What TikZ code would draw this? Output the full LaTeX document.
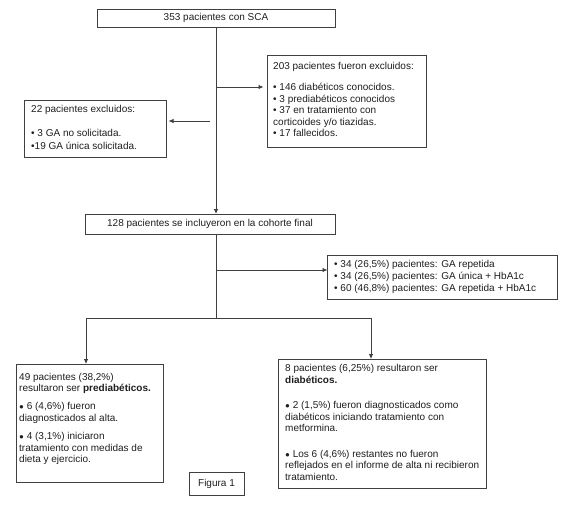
\documentclass[tikz,border=0pt]{standalone}
\usepackage{fontspec}
\setmainfont{Liberation Sans}
\usetikzlibrary{arrows.meta}
\definecolor{ln}{HTML}{404040}
\definecolor{tx}{HTML}{1E1E1E}
\newcommand{\bul}{{\fontsize{8pt}{8pt}\selectfont ●}}
\begin{document}
\begin{tikzpicture}[x=1pt,y=-1pt,
  box/.style={draw=ln, line width=0.8pt, anchor=north west, inner sep=0pt, outer sep=0pt},
  txt/.style={anchor=base west, inner sep=0pt, align=left, text=tx, font=\fontsize{10pt}{11.6pt}\selectfont},
  arr/.style={draw=ln, line width=0.8pt, -{Latex[length=5pt,width=4.5pt]}},
  ln/.style={draw=ln, line width=0.8pt}]
\useasboundingbox (0,0) rectangle (571,506);
% boxes
\node[box, minimum width=238pt, minimum height=18pt] (b353) at (97,9) {};
\node[box, minimum width=159pt, minimum height=92pt] (b203) at (267,55) {};
\node[box, minimum width=142pt, minimum height=57pt] (b22) at (24,100) {};
\node[box, minimum width=250pt, minimum height=20pt] (b128) at (85,214) {};
\node[box, minimum width=230pt, minimum height=44pt] (bGA) at (327.5,255) {};
\node[box, minimum width=147pt, minimum height=118pt] (bL) at (16,364) {};
\node[box, minimum width=208pt, minimum height=129pt] (bD) at (278,359) {};
\node[box, minimum width=55pt, minimum height=23pt] (bF) at (189,472) {};
% texts (anchored at the baseline of their last line)
\node[txt, anchor=center] (t353) at (b353.center) {353 pacientes con SCA};
\node[txt] (t203) at (273,136.9) {203 pacientes fueron excluidos:\\[9.4pt]
• 146 diabéticos conocidos.\\
• 3 prediabéticos conocidos\\
• 37 en tratamiento con\\
corticoides y/o tiazidas.\\
• 17 fallecidos.};
\node[txt] (t22) at (31,149.3) {22 pacientes excluidos:\\[11.9pt]
• 3 GA no solicitada.\\[1.4pt]
•19 GA única solicitada.};
\node[txt, anchor=center] (t128) at (b128.center) {128 pacientes se incluyeron en la cohorte final};
\node[txt] (tGA) at (334,291.9) {• 34 (26,5\%) pacientes: GA repetida\\[1.2pt]
• 34 (26,5\%) pacientes: GA única + HbA1c\\[0.4pt]
• 60 (46,8\%) pacientes: GA repetida + HbA1c};
\node[txt] (tL) at (19,462.6) {49 pacientes (38,2\%)\\
resultaron ser \textbf{prediabéticos.}\\[6.4pt]
\bul\ 6 (4,6\%) fueron\\
diagnosticados al alta.\\[6.6pt]
\bul\ 4 (3,1\%) iniciaron\\
tratamiento con medidas de\\
dieta y ejercicio.};
\node[txt] (tD) at (285,480.3) {8 pacientes (6,25\%) resultaron ser\\
\textbf{diabéticos.}\\[13.4pt]
\bul\ 2 (1,5\%) fueron diagnosticados como\\
diabéticos iniciando tratamiento con\\
metformina.\\[13.8pt]
\bul\ Los 6 (4,6\%) restantes no fueron\\
reflejados en el informe de alta ni recibieron\\
tratamiento.};
\node[txt, anchor=center] (tF) at (bF.center) {Figura 1};
% connectors
\coordinate (j1) at (216,87);
\coordinate (j2) at (210,121);
\coordinate (j4) at (216,270);
\coordinate (j3) at (216,318);
\coordinate (xL) at (86,0);
\coordinate (xR) at (371,0);
\draw[arr] (b353.south) -- (b353.south |- b128.north);
\draw[arr, shorten >=3.5pt] (j1) -- (j1 -| b203.west);
\draw[arr, shorten >=2.5pt] (j2) -- (j2 -| b22.east);
\draw[ln] (b353.south |- b128.south) -- (j3);
\draw[arr] (j4) -- (j4 -| bGA.west);
\draw[arr] (j3) -| (xL |- bL.north);
\draw[arr] (j3) -| (xR |- bD.north);
\end{tikzpicture}
\end{document}
